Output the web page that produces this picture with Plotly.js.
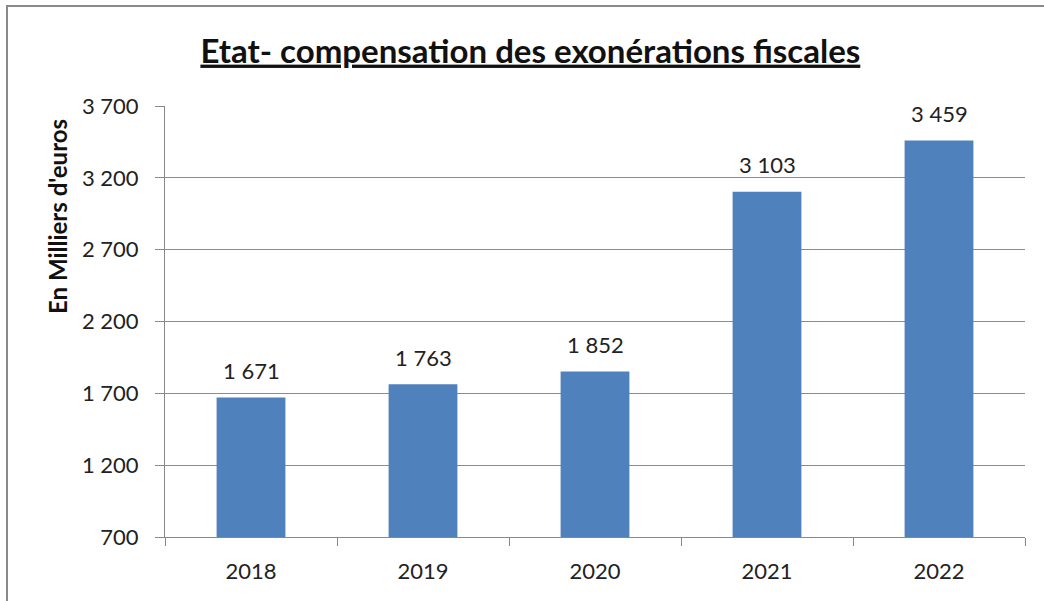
<!DOCTYPE html>
<html>
<head>
<meta charset="utf-8">
<script src="https://cdn.plot.ly/plotly-3.0.1.min.js"></script>
<style>html,body{margin:0;padding:0;background:#fff}#chart{width:1044px;height:601px}</style>
</head>
<body>
<div id="chart"></div>
<script>
const years = ['2018', '2019', '2020', '2021', '2022'];
const values = [1671, 1763, 1852, 3103, 3459];
const yTicks = [700, 1200, 1700, 2200, 2700, 3200, 3700];
const titleText = 'Etat- compensation des exonérations fiscales';
const yTitleText = "En Milliers d'euros";

const FONT = 'Lato, "Open Sans", sans-serif';

const trace = {
  type: 'bar',
  x: years,
  y: values,
  marker: {color: '#4F81BD'},
  hoverinfo: 'x+y'
};

const fmt = v => String(v).replace(/\B(?=(\d{3})+(?!\d))/g, ' ');

// x given as category index (category position of each year on the axis)
const labelAnnotations = years.map((yr, i) => ({
  x: i, y: values[i], xref: 'x', yref: 'y',
  text: fmt(values[i]),
  showarrow: false, xanchor: 'center', yanchor: 'middle', yshift: 27,
  font: {family: FONT, size: 22, color: '#222'}
}));

const layout = {
  width: 1044, height: 601,
  margin: {l: 165, r: 19, t: 106, b: 64},
  paper_bgcolor: '#fff', plot_bgcolor: '#fff',
  separators: ', ',
  bargap: 0.6,
  showlegend: false,
  font: {family: FONT, size: 22, color: '#222'},
  title: {
    text: '<b><u>' + titleText + '</u></b>',
    x: 0.508, xanchor: 'center', y: 0.915, yanchor: 'middle',
    font: {family: FONT, size: 33, color: '#111'}
  },
  xaxis: {
    type: 'category',
    range: [-0.5, years.length - 0.5],
    showline: true, linecolor: '#888', linewidth: 1,
    ticks: 'outside', tickson: 'boundaries', ticklen: 8, tickcolor: '#888',
    ticklabelstandoff: 15,
    tickfont: {family: FONT, size: 22, color: '#222'},
    showgrid: false, zeroline: false
  },
  yaxis: {
    range: [700, 3700],
    tickvals: yTicks,
    tickformat: ',d',
    showline: true, linecolor: '#888', linewidth: 1,
    ticks: 'outside', ticklen: 9, tickcolor: '#888',
    ticklabelstandoff: 12,
    showgrid: true, gridcolor: '#8c8c8c', gridwidth: 1,
    zeroline: false,
    tickfont: {family: FONT, size: 22, color: '#222'}
  },
  annotations: [{
    text: '<b>' + yTitleText + '</b>',
    textangle: -90,
    xref: 'paper', yref: 'paper',
    x: (57 - 165) / 860, y: (537 - 216) / 431,
    xanchor: 'center', yanchor: 'middle',
    showarrow: false,
    font: {family: FONT, size: 24, color: '#111'}
  }].concat(labelAnnotations),
  shapes: [{
    type: 'rect', xref: 'paper', yref: 'paper',
    x0: (7 - 165) / 860, x1: (1300 - 165) / 860,
    y0: (537 - 800) / 431, y1: (537 - 6) / 431,
    line: {color: '#8a8a8a', width: 2}, fillcolor: 'rgba(0,0,0,0)', layer: 'below'
  }]
};

Plotly.newPlot('chart', [trace], layout, {displayModeBar: false, staticPlot: true});
</script>
</body>
</html>
